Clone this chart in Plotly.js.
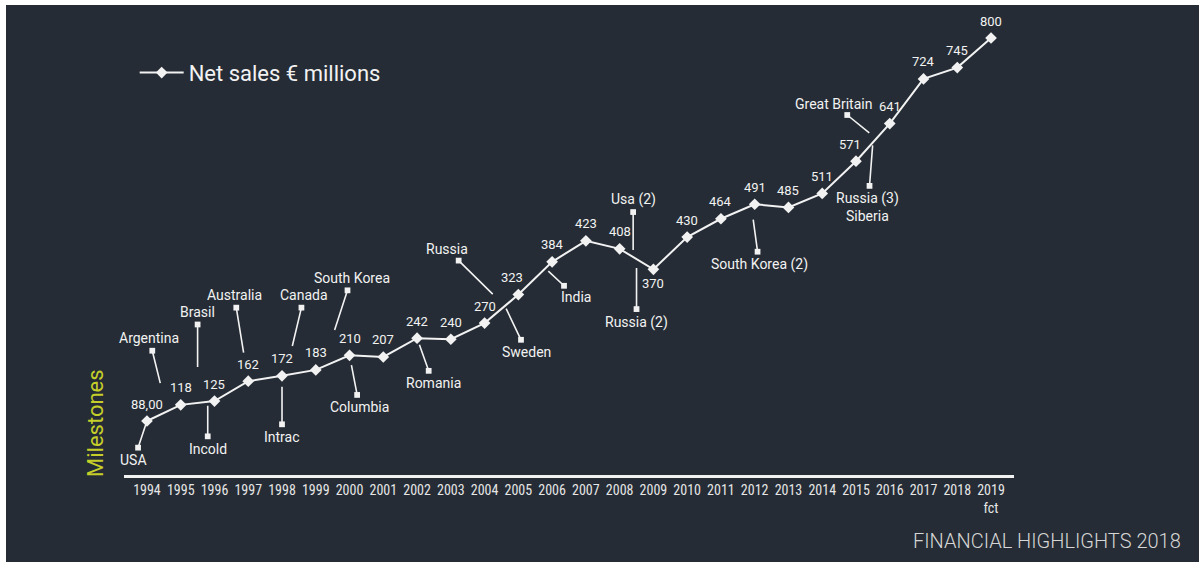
<!DOCTYPE html>
<html>
<head>
<meta charset="utf-8">
<script src="https://cdn.plot.ly/plotly-3.0.1.min.js"></script>
<style>
  html, body { margin: 0; padding: 0; background: #ffffff; }
  #chart { position: absolute; left: 6px; top: 5px; width: 1193px; height: 557px; }
</style>
</head>
<body>
<div id="chart"></div>
<script>
// ---- data ----
const years = [1994,1995,1996,1997,1998,1999,2000,2001,2002,2003,2004,2005,2006,2007,2008,2009,2010,2011,2012,2013,2014,2015,2016,2017,2018,2019];
const netSales = [88,118,125,162,172,183,210,207,242,240,270,323,384,423,408,370,430,464,491,485,511,571,641,724,745,800];
const salesLabels = ["88,00","118","125","162","172","183","210","207","242","240","270","323","384","423","408","370","430","464","491","485","511","571","641","724","745","800"];
const tickLabels = ["1994","1995","1996","1997","1998","1999","2000","2001","2002","2003","2004","2005","2006","2007","2008","2009","2010","2011","2012","2013","2014","2015","2016","2017","2018","2019<br>fct"];

const milestoneNames = ["USA","Argentina","Brasil","Incold","Australia","Intrac","Canada","South Korea","Columbia","Romania","Russia","Sweden","India","Usa (2)","Russia (2)","South Korea (2)","Great Britain","Russia (3)<br>Siberia"];
const milestoneYears = [1994,1994.6,1995.5,1995.8,1997,1998,1998.1,1999.2,2000,2002,2004.6,2004.6,2005.8,2008.4,2008.5,2011.9,2015.6,2015.5];

// ---- layout config (label placement, px offsets) ----
const msOffsets = [
  [-13, 39, 4], [-18, -73, 29], [0, -91, 36], [0, 47, 4], [-14, -86, 29], [0, 61, 11],
  [19, -80, 30], [29, -89, 39], [10, 52, 10], [16, 45, 7], [-58, -57, 17], [22, 46, 3],
  [31, 29, 4], [0, -58, 7], [0, 63, 9], [8, 59, 14], [-43, -35, 9], [-5, 65, 3]
];
const labelBelow = {2009: true};
const labelShiftX = {2005: -6, 2015: -6};

function salesAt(yr) {
  for (let i = 0; i < years.length - 1; i++) {
    if (yr >= years[i] && yr <= years[i + 1]) {
      const f = (yr - years[i]) / (years[i + 1] - years[i]);
      return netSales[i] + f * (netSales[i + 1] - netSales[i]);
    }
  }
  return netSales[netSales.length - 1];
}

const WHITE = '#f2f2f2';
const annotations = [];

years.forEach((yr, i) => {
  annotations.push({
    x: yr, y: netSales[i], xref: 'x', yref: 'y',
    text: salesLabels[i], showarrow: false,
    xanchor: 'center', yanchor: 'middle',
    yshift: labelBelow[yr] ? -14 : 17,
    xshift: labelShiftX[yr] || 0,
    font: {family: 'Roboto, sans-serif', size: 13, color: WHITE}
  });
});

milestoneNames.forEach((name, i) => {
  const o = msOffsets[i];
  annotations.push({
    x: milestoneYears[i], y: salesAt(milestoneYears[i]), xref: 'x', yref: 'y',
    text: name, showarrow: true,
    ax: o[0], ay: o[1], axref: 'pixel', ayref: 'pixel',
    arrowside: 'start', startarrowhead: 7, startarrowsize: 0.9,
    arrowwidth: 1.6, arrowcolor: WHITE,
    standoff: o[2], startstandoff: 3,
    font: {family: 'Roboto, sans-serif', size: 14, color: WHITE}
  });
});

annotations.push({
  xref: 'paper', yref: 'paper', x: -0.0326, y: 0.113,
  text: 'Milestones', textangle: -90, showarrow: false,
  xanchor: 'center', yanchor: 'middle',
  font: {family: 'Roboto, sans-serif', size: 22, color: '#c6cf2a'}
});
annotations.push({
  xref: 'paper', yref: 'paper', x: 1.19, y: -0.1435,
  text: 'FINANCIAL HIGHLIGHTS 2018', showarrow: false,
  xanchor: 'right', yanchor: 'middle',
  font: {family: 'Roboto, sans-serif', size: 20, color: '#d6d6d6', weight: 300}
});

const trace = {
  x: years, y: netSales, type: 'scatter', mode: 'lines+markers',
  name: 'Net sales € millions',
  line: {color: WHITE, width: 2},
  marker: {symbol: 'diamond', size: 9, color: WHITE},
  cliponaxis: false
};

const layout = {
  width: 1193, height: 557,
  paper_bgcolor: '#252c35', plot_bgcolor: '#252c35',
  margin: {l: 118, r: 185, t: 10, b: 87},
  showlegend: true,
  legend: {
    x: 0.012, y: 0.92, xanchor: 'left', yanchor: 'top',
    bgcolor: 'rgba(0,0,0,0)', itemwidth: 44,
    font: {family: 'Roboto, sans-serif', size: 22, color: WHITE}
  },
  xaxis: {
    range: [1993.32, 2019.68], tickmode: 'array', tickvals: years, ticktext: tickLabels,
    showgrid: false, zeroline: false, showline: true, linecolor: WHITE, linewidth: 3,
    ticks: '', tickangle: 0,
    tickfont: {family: '"Liberation Sans Narrow", "Roboto Condensed", Roboto, sans-serif', size: 14, color: '#e6e6e6'}
  },
  yaxis: {range: [-12.4, 842.8], visible: false, showgrid: false, zeroline: false},
  annotations: annotations
};

Plotly.newPlot('chart', [trace], layout, {displayModeBar: false, staticPlot: true});
</script>
</body>
</html>
